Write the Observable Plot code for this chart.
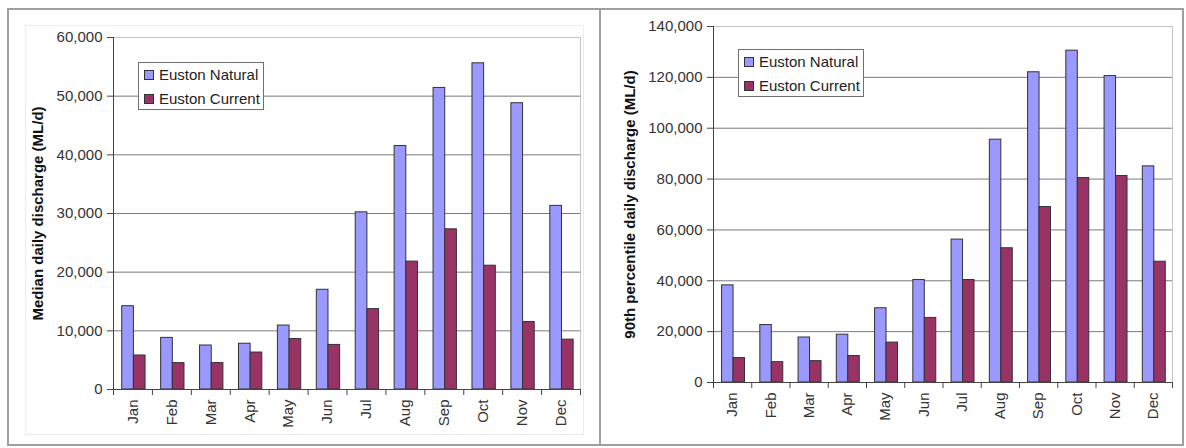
<!DOCTYPE html>
<html>
<head>
<meta charset="utf-8">
<script src="https://cdn.jsdelivr.net/npm/d3@7"></script>
<script src="https://cdn.jsdelivr.net/npm/@observablehq/plot@0.6"></script>
<style>
  html, body { margin: 0; padding: 0; background: #fff; }
  body { width: 1186px; height: 448px; position: relative; overflow: hidden; font-family: "Liberation Sans", Arial, sans-serif; }
  .panel { position: absolute; box-sizing: border-box; border: 2px solid #a0a0a0; }
  .area { position: absolute; box-sizing: border-box; border: 1px solid #ececec; }
  .chart { position: absolute; top: 0; }
  .legend { position: absolute; box-sizing: border-box; border: 1px solid #707070; background: #fff; width: 126px; height: 48px; font-size: 15px; color: #222; }
  .legend .item { position: absolute; left: 5px; height: 18px; line-height: 18px; white-space: nowrap; }
  .legend .sw { display: inline-block; width: 8px; height: 8px; border: 1px solid #333; vertical-align: middle; margin-right: 5px; position: relative; top: -1px; }
</style>
</head>
<body>
<div class="panel" style="left:7px;top:8px;width:594px;height:438px;"></div>
<div class="panel" style="left:599px;top:8px;width:585px;height:438px;"></div>
<div class="area" style="left:25px;top:25px;width:559px;height:410px;"></div>
<div id="left" class="chart" style="left:0px;"></div>
<div id="right" class="chart" style="left:600px;"></div>
<script>
// ---- data ----
const months = ["Jan","Feb","Mar","Apr","May","Jun","Jul","Aug","Sep","Oct","Nov","Dec"];
const seriesNames = ["Euston Natural", "Euston Current"];
const seriesColors = ["#9999ff", "#993366"];

const medianNatural = [14200, 8800, 7500, 7800, 10900, 17000, 30200, 41500, 51400, 55600, 48800, 31300];
const medianCurrent = [5800, 4500, 4500, 6300, 8600, 7600, 13700, 21800, 27300, 21100, 11500, 8500];

const p90Natural = [38200, 22600, 17700, 18800, 29200, 40300, 56200, 95500, 122000, 130500, 120500, 85000];
const p90Current = [9600, 8000, 8400, 10400, 15700, 25400, 40300, 52800, 69000, 80400, 81200, 47500];

const medianTicks = [0, 10000, 20000, 30000, 40000, 50000, 60000];
const p90Ticks = [0, 20000, 40000, 60000, 80000, 100000, 120000, 140000];

const medianLabel = "Median daily discharge (ML/d)";
const p90Label = "90th percentile daily discharge (ML/d)";

function rowsOf(natural, current) {
  const rows = [];
  months.forEach((m, i) => {
    rows.push({month: m, series: seriesNames[0], value: natural[i]});
    rows.push({month: m, series: seriesNames[1], value: current[i]});
  });
  return rows;
}

function makeChart(el, cfg) {
  const {natural, current, ticks, label, width, height, mL, mR, mT, mB, labelDx, legendLeft, legendTop} = cfg;
  const rows = rowsOf(natural, current);
  const bw = (width - mL - mR) / months.length;
  const natOff = 0.224 * bw, barW = 0.30 * bw;
  const top = ticks[ticks.length - 1];
  const chart = Plot.plot({
    width, height,
    marginLeft: mL, marginRight: mR, marginTop: mT, marginBottom: mB,
    style: {background: "none", fontSize: "15px", fontFamily: "'Liberation Sans', Arial, sans-serif", color: "#333"},
    x: {type: "band", domain: months, padding: 0, round: false, axis: null},
    y: {domain: [0, top], axis: null},
    color: {domain: seriesNames, range: seriesColors},
    marks: [
      Plot.gridY(ticks.slice(0, -1), {stroke: "#7a7a7a", strokeOpacity: 1}),
      Plot.gridY([top], {stroke: "#c4c4c4", strokeOpacity: 1}),
      Plot.frame({anchor: "right", stroke: "#c4c4c4"}),
      Plot.barY(rows.filter(d => d.series === seriesNames[0]), {
        x: "month", y: "value", fill: "series", stroke: "#333", strokeWidth: 1,
        insetLeft: natOff, insetRight: bw - natOff - barW
      }),
      Plot.barY(rows.filter(d => d.series === seriesNames[1]), {
        x: "month", y: "value", fill: "series", stroke: "#333", strokeWidth: 1,
        insetLeft: natOff + barW, insetRight: bw - natOff - 2 * barW
      }),
      Plot.frame({anchor: "left", stroke: "#444"}),
      Plot.ruleY([0], {stroke: "#444"}),
      Plot.ruleX(months, {x: d => d, dx: -bw / 2, y1: 0, y2: 0, insetBottom: -6, stroke: "#444"}),
      Plot.ruleX(months.slice(-1), {x: d => d, dx: bw / 2, y1: 0, y2: 0, insetBottom: -6, stroke: "#444"}),
      Plot.axisY({ticks, tickFormat: d3.format(","), tickSize: 6, tickPadding: 5, label: null, fill: "#333", stroke: "#444"}),
      Plot.axisX({tickRotate: -90, tickSize: 0, tickPadding: 10, label: null, fill: "#333"}),
      Plot.text([label], {text: d => d, frameAnchor: "left", textAnchor: "middle", dx: labelDx, rotate: -90, fontWeight: "bold", fontSize: 15, fill: "#111"})
    ]
  });
  el.appendChild(chart);
  const lg = document.createElement("div");
  lg.className = "legend";
  lg.style.left = (legendLeft) + "px";
  lg.style.top = legendTop + "px";
  seriesNames.forEach((s, i) => {
    const it = document.createElement("div");
    it.className = "item";
    it.style.top = (3 + i * 24) + "px";
    const sw = document.createElement("span");
    sw.className = "sw";
    sw.style.background = seriesColors[i];
    it.appendChild(sw);
    it.appendChild(document.createTextNode(s));
    lg.appendChild(it);
  });
  el.appendChild(lg);
}

makeChart(document.getElementById("left"), {
  natural: medianNatural, current: medianCurrent, ticks: medianTicks, label: medianLabel,
  width: 600, height: 448, mL: 113, mR: 20, mT: 37, mB: 59, labelDx: -75,
  legendLeft: 138, legendTop: 62
});
makeChart(document.getElementById("right"), {
  natural: p90Natural, current: p90Current, ticks: p90Ticks, label: p90Label,
  width: 586, height: 448, mL: 113, mR: 14, mT: 26, mB: 66, labelDx: -83,
  legendLeft: 138, legendTop: 49
});
</script>
</body>
</html>
